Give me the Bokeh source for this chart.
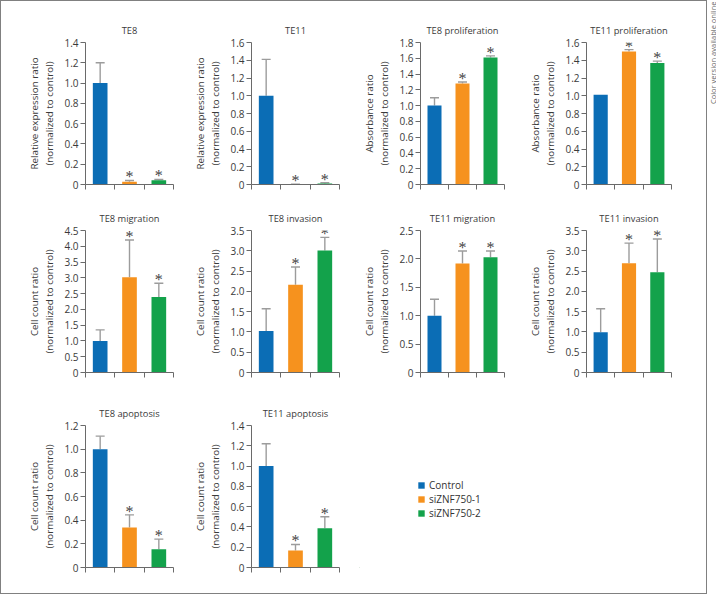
import math
from bokeh.plotting import figure
from bokeh.models import (ColumnDataSource, Range1d, FixedTicker, PrintfTickFormatter,
                          Whisker, TeeHead, LabelSet, Label, Legend, LegendItem)
from bokeh.layouts import row, column
from bokeh.embed import file_html
from bokeh.resources import INLINE

FONT = "Open Sans"

# ---------------- data ----------------
groups = ["Control", "siZNF750-1", "siZNF750-2"]
colors = ["#0b6db5", "#f6921e", "#13a24b"]

# a: relative expression
te8_expr = [1.00, 0.026, 0.043]
te8_expr_sd = [0.20, 0.014, 0.007]
te8_expr_star = [False, True, True]
te11_expr = [1.00, 0.003, 0.011]
te11_expr_sd = [0.41, 0.001, 0.008]
te11_expr_star = [False, True, True]

# b: proliferation
te8_prol = [1.00, 1.28, 1.61]
te8_prol_sd = [0.10, 0.02, 0.02]
te8_prol_star = [False, True, True]
te11_prol = [1.01, 1.50, 1.37]
te11_prol_sd = [0.0, 0.02, 0.02]
te11_prol_star = [False, True, True]

# c: migration / invasion
te8_mig = [1.00, 3.02, 2.39]
te8_mig_sd = [0.35, 1.18, 0.44]
te8_mig_star = [False, True, True]
te8_inv = [1.02, 2.16, 3.01]
te8_inv_sd = [0.55, 0.44, 0.32]
te8_inv_star = [False, True, True]
te11_mig = [1.00, 1.92, 2.03]
te11_mig_sd = [0.29, 0.22, 0.11]
te11_mig_star = [False, True, True]
te11_inv = [0.99, 2.69, 2.47]
te11_inv_sd = [0.58, 0.50, 0.82]
te11_inv_star = [False, True, True]

# d: apoptosis
te8_apo = [1.00, 0.338, 0.155]
te8_apo_sd = [0.11, 0.107, 0.085]
te8_apo_star = [False, True, True]
te11_apo = [1.00, 0.168, 0.388]
te11_apo_sd = [0.22, 0.059, 0.112]
te11_apo_star = [False, True, True]

# y tick values
ticks_14 = [0, 0.2, 0.4, 0.6, 0.8, 1.0, 1.2, 1.4]
ticks_16 = [0, 0.2, 0.4, 0.6, 0.8, 1.0, 1.2, 1.4, 1.6]
ticks_18 = [0, 0.2, 0.4, 0.6, 0.8, 1.0, 1.2, 1.4, 1.6, 1.8]
ticks_12 = [0, 0.2, 0.4, 0.6, 0.8, 1.0, 1.2]
ticks_45 = [0, 0.5, 1.0, 1.5, 2.0, 2.5, 3.0, 3.5, 4.0, 4.5]
ticks_35 = [0, 0.5, 1.0, 1.5, 2.0, 2.5, 3.0, 3.5]
ticks_25 = [0, 0.5, 1.0, 1.5, 2.0, 2.5]

lab_expr = "Relative expression ratio\n(normalized to control)"
lab_abs = "Absorbance ratio\n(normalized to control)"
lab_cell = "Cell count ratio\n(normalized to control)"

# ---------------- geometry ----------------
COLS = [(188, 84, 16), (170, 62, 20), (166, 57, 21), (181, 58, 35)]   # width, left, right
ROWS = [(198, 41, 15), (188, 31, 15), (206, 38, 26)]                  # height, top, bottom

TXT = "#3a3a3a"
AX = "#6a6a6a"
ERR = "#9c9c9c"


def panel(col, rw, title, ylabel, ticks, vals, sds, stars, toff=0, letter=None, ldx=0, ldy=0):
    w, ml, mr = COLS[col]
    h, mt, mb = ROWS[rw]
    p = figure(width=w, height=h, output_backend="svg", toolbar_location=None,
               x_range=Range1d(0, 3), y_range=Range1d(0, ticks[-1]),
               min_border_left=ml, min_border_right=mr,
               min_border_top=mt, min_border_bottom=mb, title=title)
    p.title.align = "center"
    p.title.offset = toff
    p.title.text_font = FONT
    p.title.text_font_size = "9.3px"
    p.title.text_font_style = "normal"
    p.title.text_color = TXT
    p.title.standoff = 12
    p.outline_line_color = None
    p.grid.visible = False
    p.background_fill_color = "white"

    xs = [i + 0.5 for i in range(len(groups))]
    upper = [v + s for v, s in zip(vals, sds)]
    src = ColumnDataSource(dict(x=xs, top=vals, color=colors, upper=upper, group=groups))
    p.vbar(x="x", top="top", width=0.5, fill_color="color", line_color=None, source=src)

    ex = [x for x, s in zip(xs, sds) if s > 0]
    src_e = ColumnDataSource(dict(
        x=ex,
        lower=[v for v, s in zip(vals, sds) if s > 0],
        upper=[u for u, s in zip(upper, sds) if s > 0]))
    wk = Whisker(base="x", upper="upper", lower="lower", source=src_e, dimension="height",
                 line_color=ERR, line_width=1.4,
                 upper_head=TeeHead(size=9, line_color=ERR, line_width=1.4), lower_head=None)
    p.add_layout(wk)

    src_s = ColumnDataSource(dict(
        x=[x for x, st in zip(xs, stars) if st],
        y=[u for u, st in zip(upper, stars) if st],
        t=["*" for st in stars if st]))
    ls = LabelSet(x="x", y="y", text="t", source=src_s, text_align="center",
                  text_baseline="alphabetic", y_offset=-2, text_font=FONT,
                  text_font_size="16px", text_color="#444444")
    p.add_layout(ls)

    xa = p.xaxis[0]
    xa.ticker = FixedTicker(ticks=[0, 1, 2, 3])
    xa.major_label_text_font_size = "1px"
    xa.major_label_text_color = None
    xa.major_label_standoff = 0
    xa.major_tick_out = 5
    xa.major_tick_in = 0
    xa.minor_tick_line_color = None
    xa.axis_line_color = AX
    xa.major_tick_line_color = AX

    ya = p.yaxis[0]
    ya.ticker = FixedTicker(ticks=ticks)
    ya.formatter = PrintfTickFormatter(format="%.1f")
    ya.major_label_overrides = {0: "0"}
    ya.major_tick_out = 5
    ya.major_tick_in = 0
    ya.minor_tick_line_color = None
    ya.axis_line_color = AX
    ya.major_tick_line_color = AX
    ya.major_label_standoff = 2
    ya.major_label_text_font = FONT
    ya.major_label_text_font_size = "10px"
    ya.major_label_text_color = TXT
    ya.axis_label = ylabel
    ya.axis_label_text_font = FONT
    ya.axis_label_text_font_size = "9.8px"
    ya.axis_label_text_font_style = "normal"
    ya.axis_label_text_color = TXT
    ya.axis_label_standoff = 5

    if letter:
        p.add_layout(Label(x=0, y=0, x_offset=ldx, y_offset=ldy, text=letter,
                           text_font=FONT, text_font_style="bold", text_font_size="11px",
                           text_color="#222222", text_baseline="alphabetic"))
    return p


f1 = panel(0, 0, "TE8", lab_expr, ticks_14, te8_expr, te8_expr_sd, te8_expr_star, 0, "a", -50, -6)
f2 = panel(1, 0, "TE11", lab_expr, ticks_16, te11_expr, te11_expr_sd, te11_expr_star)
f3 = panel(2, 0, "TE8 proliferation", lab_abs, ticks_18, te8_prol, te8_prol_sd, te8_prol_star, 11, "b", -42, -6)
f4 = panel(3, 0, "TE11 proliferation", lab_abs, ticks_16, te11_prol, te11_prol_sd, te11_prol_star, 6)
f5 = panel(0, 1, "TE8 migration", lab_cell, ticks_45, te8_mig, te8_mig_sd, te8_mig_star, -9, "c", -50, -3)
f6 = panel(1, 1, "TE8 invasion", lab_cell, ticks_35, te8_inv, te8_inv_sd, te8_inv_star)
f7 = panel(2, 1, "TE11 migration", lab_cell, ticks_25, te11_mig, te11_mig_sd, te11_mig_star)
f8 = panel(3, 1, "TE11 invasion", lab_cell, ticks_35, te11_inv, te11_inv_sd, te11_inv_star, 4)
f9 = panel(0, 2, "TE8 apoptosis", lab_cell, ticks_12, te8_apo, te8_apo_sd, te8_apo_star, -8, "d", -50, -4)
f10 = panel(1, 2, "TE11 apoptosis", lab_cell, ticks_14, te11_apo, te11_apo_sd, te11_apo_star)

# legend panel (legend swatches come from off-screen proxy bars)
lw = COLS[2][0] + COLS[3][0]
lh = ROWS[2][0]
lf = figure(width=lw, height=lh, output_backend="svg", toolbar_location=None,
            x_range=Range1d(0, 1), y_range=Range1d(0, 1),
            x_axis_location=None, y_axis_location=None, min_border=0)
lf.outline_line_color = None
lf.grid.visible = False
items = []
for g, c in zip(groups, colors):
    r = lf.vbar(x=[-5], top=[-5], bottom=[-6], width=1, fill_color=c, line_color=None)
    items.append(LegendItem(label=g, renderers=[r]))
leg = Legend(items=items, location=(58, 47), padding=0, margin=0, spacing=-1,
             glyph_width=8, glyph_height=8, label_height=12, label_standoff=4,
             label_text_font=FONT, label_text_font_size="10px", label_text_color="#333333",
             border_line_color=None, background_fill_alpha=0)
lf.add_layout(leg, "center")

grid = column(row(f1, f2, f3, f4), row(f5, f6, f7, f8), row(f9, f10, lf),
              styles={"border": "1px solid #808080"})

# side note
side_h = sum(r[0] for r in ROWS) + 2
side = figure(width=9, height=side_h, output_backend="svg", toolbar_location=None,
              x_range=Range1d(0, 9), y_range=Range1d(0, side_h),
              x_axis_location=None, y_axis_location=None, min_border=0)
side.outline_line_color = None
side.grid.visible = False
side.add_layout(Label(x=5, y=side_h - 1, text="Color version available online", angle=math.pi / 2,
                      text_align="right", text_baseline="middle", text_font=FONT,
                      text_font_size="7.5px", text_color="#666666"))

layout = row(grid, side)

open("out.html", "w").write(file_html(layout, INLINE))
